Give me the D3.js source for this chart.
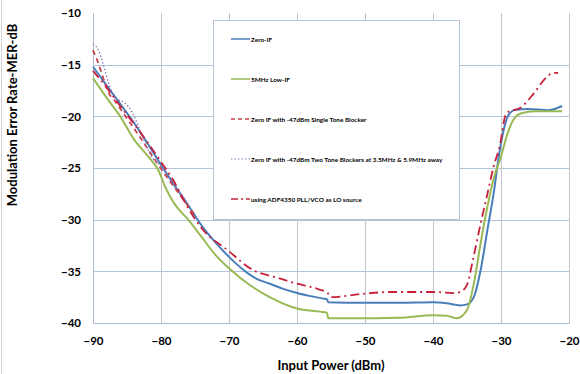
<!DOCTYPE html>
<html>
<head>
<meta charset="utf-8">
<script src="https://cdn.jsdelivr.net/npm/d3@7"></script>
<style>
  body { margin: 0; background: #fff; }
  text { font-family: Lato, "Open Sans", sans-serif; font-weight: bold; fill: #000; }
</style>
</head>
<body>
<div id="chart"></div>
<script>
// data
var xTicks = [-90, -80, -70, -60, -50, -40, -30, -20];
var yTicks = [-10, -15, -20, -25, -30, -35, -40];

var seriesNames = [
  "Zero-IF",
  "5MHz Low-IF",
  "Zero IF with -47dBm Single Tone Blocker",
  "Zero IF with -47dBm Two Tone Blockers at 3.5MHz & 5.9MHz away",
  "using ADF4350 PLL/VCO as LO source"
];

var zeroIfX = [-90, -88, -86, -84, -82, -80, -78, -76, -74, -72, -70, -68, -67, -66, -64, -62, -60, -58, -56, -55.6, -55.4, -50, -45, -40, -38, -36, -35, -34, -33, -32, -31, -30.4, -29.7, -29, -28, -26, -23, -21];
var zeroIfY = [-15.2, -17.0, -18.8, -20.6, -22.6, -24.7, -26.7, -28.6, -30.6, -32.2, -33.6, -34.8, -35.3, -35.7, -36.2, -36.7, -37.1, -37.4, -37.65, -37.7, -38.0, -38.05, -38.05, -38.0, -38.1, -38.3, -38.2, -37.5, -34.9, -31.0, -27.1, -24.2, -21.6, -20.0, -19.4, -19.3, -19.4, -19.0];

var lowIfX = [-90, -88, -86, -84, -82, -80.4, -79.4, -78.2, -76, -74, -72, -70, -67, -64, -60, -56.6, -55.6, -55.4, -52, -45, -40, -38, -36.5, -35, -34, -33, -32, -31, -30, -29.2, -28.2, -27, -25, -21];
var lowIfY = [-16.3, -18.2, -20.0, -22.2, -23.8, -25.2, -26.8, -28.3, -30.0, -31.7, -33.4, -34.7, -36.3, -37.5, -38.6, -38.9, -39.0, -39.55, -39.55, -39.5, -39.25, -39.3, -39.55, -38.75, -36.2, -32.3, -28.75, -25.85, -23.9, -22.0, -20.35, -19.7, -19.5, -19.5];

var singleToneX = [-90, -89.3, -88.5, -87.8, -86.8, -85, -83, -81, -79, -77, -75];
var singleToneY = [-13.6, -14.7, -16.3, -17.6, -18.5, -20.2, -22.1, -24.1, -26.0, -27.8, -29.6];

var twoToneX = [-90, -89.2, -88.4, -87.6, -86.8, -86.3, -85.3, -84.3, -83.3, -81.4, -79.9, -78, -76];
var twoToneY = [-13.0, -13.6, -15.2, -17.0, -18.2, -18.4, -18.7, -19.55, -21.0, -23.9, -24.9, -26.6, -28.5];

var adfX = [-90, -88, -86, -84, -82, -80, -78, -76.5, -73.8, -70.3, -66.4, -63, -60, -57, -55.5, -55, -50.7, -46.3, -40, -37, -36, -35, -34.1, -33.1, -32.1, -31.1, -30.1, -29.4, -28.9, -27.2, -25.2, -23.3, -22.3, -21.6];
var adfY = [-15.6, -17.2, -19.0, -20.7, -22.5, -24.4, -26.4, -28.3, -31.0, -32.9, -34.9, -35.6, -36.2, -36.7, -37.1, -37.5, -37.2, -37.0, -37.0, -37.1, -37.0, -36.3, -33.8, -30.7, -27.8, -24.9, -22.6, -20.0, -19.55, -19.2, -17.8, -16.2, -15.8, -15.8];

// svg container
var svgWidth = 580;
var svgHeight = 374;

var margin = { top: 13, right: 11, bottom: 51, left: 93 };
var chartWidth = svgWidth - margin.left - margin.right;
var chartHeight = svgHeight - margin.top - margin.bottom;

var svg = d3.select("#chart")
            .append("svg")
            .attr("width", svgWidth)
            .attr("height", svgHeight);

// faint frame line on the left edge
svg.append("line")
   .attr("x1", 1.5).attr("x2", 1.5)
   .attr("y1", 0).attr("y2", svgHeight)
   .attr("stroke", "#d4d4d4");

var chartGroup = svg.append("g")
                    .attr("transform", `translate(${margin.left}, ${margin.top})`);

// scales
var xScale = d3.scaleLinear().domain([-90, -20]).range([0, chartWidth]);
var yScale = d3.scaleLinear().domain([-40, -10]).range([chartHeight, 0]);

// gridlines
chartGroup.append("g")
          .selectAll("line")
          .data(yTicks.filter(d => d > -40 && d < -10))
          .enter()
          .append("line")
          .attr("x1", 0)
          .attr("x2", chartWidth)
          .attr("y1", d => Math.round(yScale(d)) + 0.5)
          .attr("y2", d => Math.round(yScale(d)) + 0.5)
          .attr("stroke", "#b3c3d8");

chartGroup.append("g")
          .selectAll("line")
          .data(xTicks.filter(d => d > -90))
          .enter()
          .append("line")
          .attr("x1", d => Math.round(xScale(d)) + 0.5)
          .attr("x2", d => Math.round(xScale(d)) + 0.5)
          .attr("y1", 0)
          .attr("y2", chartHeight)
          .attr("stroke", "#c3c8d0");

// axes
var xAxis = d3.axisBottom(xScale).tickValues(xTicks).tickSize(0).tickPadding(14);
var yAxis = d3.axisLeft(yScale).tickValues(yTicks).tickSize(0).tickPadding(12);

var xAxisG = chartGroup.append("g")
                       .attr("transform", `translate(0, ${chartHeight})`)
                       .call(xAxis);
var yAxisG = chartGroup.append("g").call(yAxis);

[xAxisG, yAxisG].forEach(function (g) {
  g.select(".domain").attr("stroke", "#a9b9cf");
  g.selectAll("text").style("font-size", "11.5px").attr("fill", "#000");
});

// axis titles
svg.append("text")
   .attr("x", margin.left + chartWidth / 2)
   .attr("y", 370)
   .attr("text-anchor", "middle")
   .style("font-size", "13px")
   .text("Input Power (dBm)");

svg.append("text")
   .attr("transform", "translate(17, 115) rotate(-90)")
   .attr("text-anchor", "middle")
   .style("font-size", "13px")
   .text("Modulation Error Rate-MER-dB");

// legend box (white, covers gridlines)
var legend = svg.append("g");
legend.append("rect")
      .attr("x", 213.5).attr("y", 20.5)
      .attr("width", 246).attr("height", 199)
      .attr("fill", "#fff")
      .attr("stroke", "#b3c3d8");

// series styles
var series = [
  { name: seriesNames[0], xs: zeroIfX, ys: zeroIfY, color: "#4a7ebb", width: 2, dash: null },
  { name: seriesNames[1], xs: lowIfX, ys: lowIfY, color: "#98b954", width: 2, dash: null },
  { name: seriesNames[2], xs: singleToneX, ys: singleToneY, color: "#c8404c", width: 1.8, dash: "5,4" },
  { name: seriesNames[3], xs: twoToneX, ys: twoToneY, color: "#8a7cb8", width: 1.3, dash: "1.5,2" },
  { name: seriesNames[4], xs: adfX, ys: adfY, color: "#c8203a", width: 1.8, dash: "9,4,2,4" }
];

var lineGen = d3.line()
                .x(d => xScale(d[0]))
                .y(d => yScale(d[1]))
                .curve(d3.curveMonotoneX);

var lineGroup = chartGroup.append("g");
series.forEach(function (s) {
  lineGroup.append("path")
           .datum(s.xs.map((x, i) => [x, s.ys[i]]))
           .attr("d", lineGen)
           .attr("fill", "none")
           .attr("stroke", s.color)
           .attr("stroke-width", s.width)
           .attr("stroke-dasharray", s.dash);
});

// legend entries
var legendY = [39, 79, 119, 159, 199];
series.forEach(function (s, i) {
  legend.append("line")
        .attr("x1", 231).attr("x2", 250)
        .attr("y1", legendY[i]).attr("y2", legendY[i])
        .attr("stroke", s.color)
        .attr("stroke-width", i === 3 ? 1 : 1.5)
        .attr("stroke-dasharray", s.dash === "9,4,2,4" ? "7,3,2,3" : (s.dash === "5,4" ? "4,3" : s.dash));
  legend.append("text")
        .attr("x", 251)
        .attr("y", legendY[i] + 2.5)
        .style("font-size", "6.4px")
        .style("font-weight", "bold")
        .attr("fill", "#222")
        .text(s.name);
});
</script>
</body>
</html>
